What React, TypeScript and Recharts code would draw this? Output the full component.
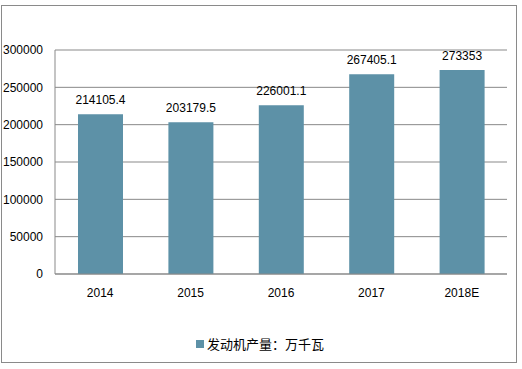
import React from "react"
import { BarChart, Bar, XAxis, YAxis, CartesianGrid, LabelList } from "recharts"

const years = ["2014", "2015", "2016", "2017", "2018E"]
const output = [214105.4, 203179.5, 226001.1, 267405.1, 273353]
const yTicks = [0, 50000, 100000, 150000, 200000, 250000, 300000]
const seriesName = "发动机产量：万千瓦"

const data = years.map((year, i) => ({ year, output: output[i] }))

const font = '"Liberation Sans", Arial, "Noto Sans CJK SC", sans-serif'
const barColor = "#5D91A7"
const gray = "#898989"

export default function App() {
  return (
    <div style={{ position: "absolute", left: 0, top: 0, width: 522, height: 369, background: "#fff", fontFamily: font }}>
      <BarChart
        width={522}
        height={369}
        data={data}
        margin={{ top: 50, right: 15, bottom: 65, left: 0 }}
      >
        <CartesianGrid vertical={false} stroke={gray} />
        <XAxis
          dataKey="year"
          height={30}
          tickLine={false}
          tickMargin={8}
          axisLine={{ stroke: gray }}
          tick={{ fill: "#000", fontSize: 12, fontFamily: font }}
        />
        <YAxis
          width={55}
          domain={[0, 300000]}
          ticks={yTicks}
          tickLine={false}
          tickMargin={6}
          axisLine={{ stroke: gray }}
          tick={{ fill: "#000", fontSize: 12, fontFamily: font }}
        />
        <Bar dataKey="output" fill={barColor} barSize={45} isAnimationActive={false}>
          <LabelList dataKey="output" position="top" offset={10} fill="#000" fontSize={12} />
        </Bar>
      </BarChart>
      {/* outer frame */}
      <div
        style={{
          position: "absolute",
          left: 1,
          top: 5,
          width: 516,
          height: 358,
          border: "1px solid #8a8a8a",
          boxSizing: "border-box",
          pointerEvents: "none",
        }}
      />
      {/* legend */}
      <div
        style={{
          position: "absolute",
          left: 196,
          top: 334,
          display: "flex",
          alignItems: "center",
          fontSize: 13,
          color: "#000",
          fontFamily: '"Noto Sans CJK SC", sans-serif',
        }}
      >
        <span style={{ display: "inline-block", width: 8, height: 8, background: barColor, marginRight: 3 }} />
        <span>{seriesName}</span>
      </div>
    </div>
  )
}
